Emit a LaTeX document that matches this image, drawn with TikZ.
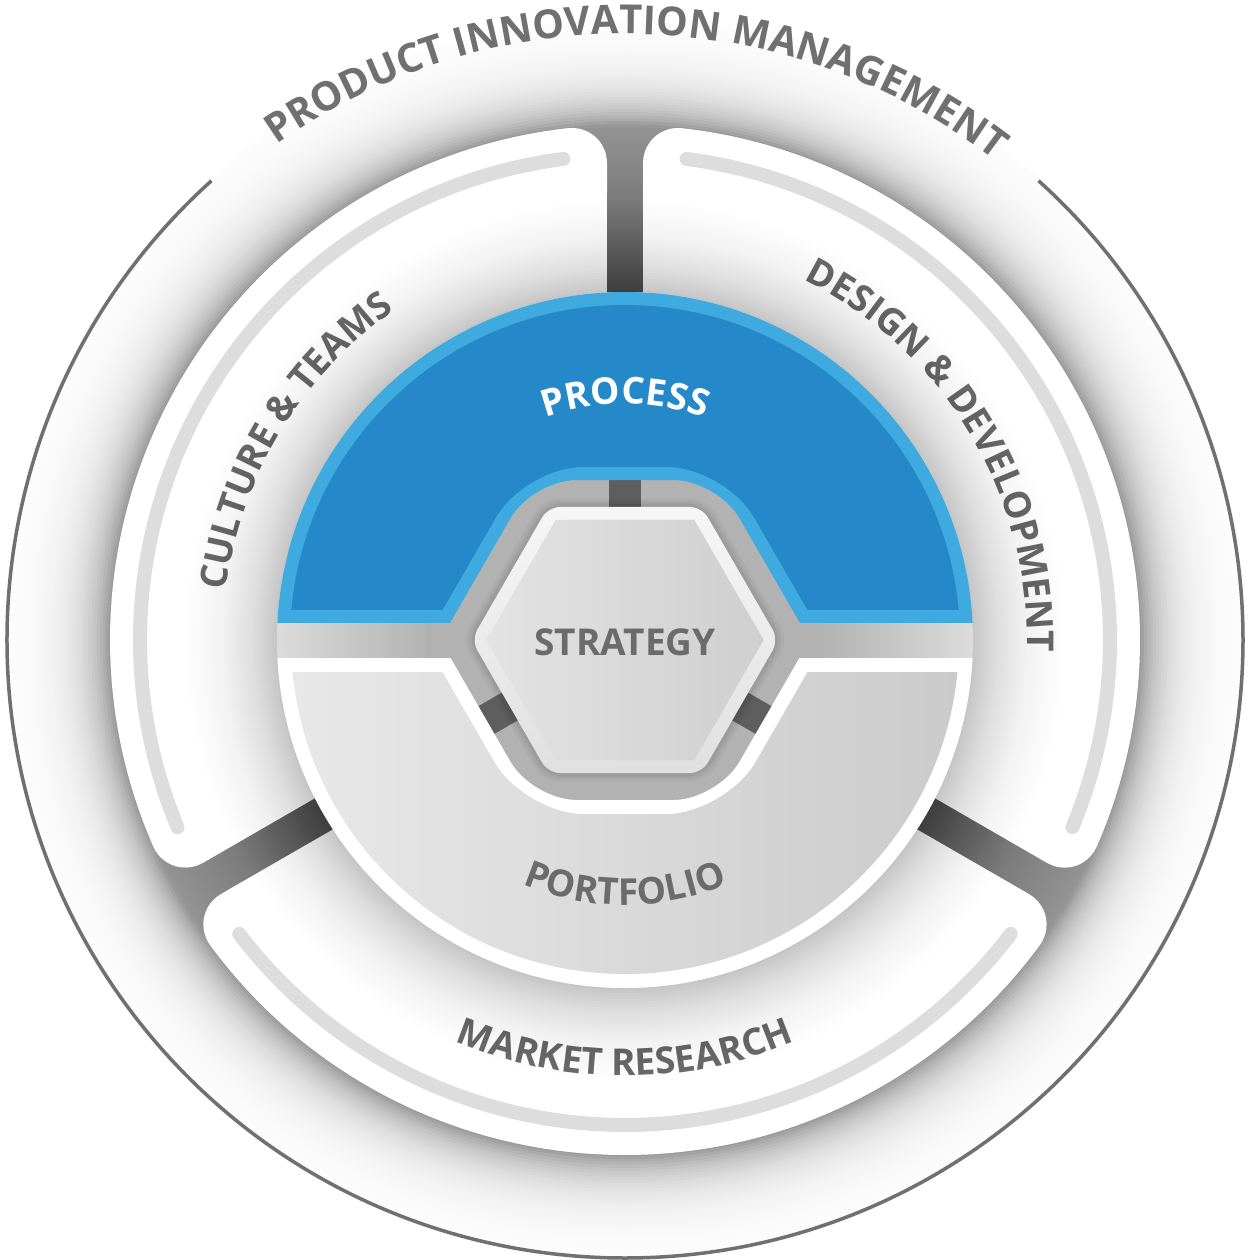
\documentclass[tikz,border=0pt]{standalone}
\usepackage{fontspec}
\setmainfont{Open Sans}
\definecolor{procdark}{HTML}{2589C9}
\definecolor{proclight}{HTML}{3FAAE0}
\definecolor{txtgray}{HTML}{6B6B6B}
\definecolor{outergray}{HTML}{707070}
\definecolor{stripegray}{HTML}{DDDDDD}
\definecolor{spokegray}{HTML}{5E5E5E}
\definecolor{pfleft}{HTML}{E8E8E8}
\definecolor{pfright}{HTML}{CBCBCB}
\definecolor{hexlight}{HTML}{F6F6F6}
\definecolor{hexlow}{HTML}{E0E0E0}
\definecolor{hexinl}{HTML}{E3E3E3}
\definecolor{hexinr}{HTML}{CFCFCF}
\newcommand\lblfont{\fontsize{18.5pt}{20pt}\selectfont\bfseries}
\newcommand\titlefont{\fontsize{20pt}{22pt}\selectfont\bfseries}
\tikzset{
  lbl/.style={font=\lblfont},
  arcchar/.style={inner sep=0pt, anchor=base},
}
\ExplSyntaxOn
\fp_new:N \l_arc_a_fp
\fp_new:N \l_arc_w_fp
\fp_new:N \l_arc_c_fp
\str_new:N \l_arc_str
\box_new:N \l_arc_box
\dim_new:N \l_arc_dim
% #1 name, #2 baseline radius, #3 centre angle, #4 1 = tops outward / -1 = tops inward, #5 font, #6 text
\NewDocumentCommand \ArcPrep { m m m m m m }
 {
  \tl_gclear_new:c { g_arc_#1_tl }
  \str_set:Nn \l_arc_str {#6}
  \hbox_set:Nn \l_arc_box { #5 \scan_stop: \str_use:N \l_arc_str }
  \dim_set:Nn \l_arc_dim { \box_wd:N \l_arc_box }
  \fp_set:Nn \l_arc_a_fp { (#3) + (#4) * ( \dim_to_fp:n { \l_arc_dim } ) / ( (#2) * 0.5 ) * 90 / pi }
  \str_map_inline:Nn \l_arc_str
   {
    \hbox_set:Nn \l_arc_box { #5 \scan_stop: ##1 }
    \dim_set:Nn \l_arc_dim { \box_wd:N \l_arc_box }
    \fp_set:Nn \l_arc_w_fp { ( \dim_to_fp:n { \l_arc_dim } ) / ( (#2) * 0.5 ) * 180 / pi }
    \fp_set:Nn \l_arc_c_fp { \l_arc_a_fp - (#4) * \l_arc_w_fp / 2 }
    \tl_gput_right:cx { g_arc_#1_tl }
     {
      \exp_not:N \node [ arcchar, rotate = \fp_eval:n { round ( \l_arc_c_fp - (#4) * 90 , 3 ) } ]
       at ( \fp_eval:n { round ( (#2) * cosd ( \l_arc_c_fp ) , 3 ) } ,
            \fp_eval:n { round ( (#2) * sind ( \l_arc_c_fp ) , 3 ) } )
       { \exp_not:n { #5 ##1 } } ;
     }
    \fp_set:Nn \l_arc_a_fp { \l_arc_a_fp - (#4) * \l_arc_w_fp }
   }
 }
\NewDocumentCommand \ArcDraw { m } { \tl_use:c { g_arc_#1_tl } }
\ExplSyntaxOff
\begin{document}%
\ArcPrep{title}{606}{89}{1}{\titlefont\color{outergray}}{PRODUCT INNOVATION MANAGEMENT}%
\ArcPrep{culture}{402}{149}{1}{\lblfont\color{txtgray}}{CULTURE & TEAMS}%
\ArcPrep{design}{402}{31}{1}{\lblfont\color{txtgray}}{DESIGN & DEVELOPMENT}%
\ArcPrep{market}{436}{270}{-1}{\lblfont\color{txtgray}}{MARKET RESEARCH}%
\ArcPrep{process}{236}{90}{1}{\lblfont\color{white}}{PROCESS}%
\ArcPrep{portfolio}{265}{270}{-1}{\lblfont\color{txtgray}}{PORTFOLIO}%
\begin{tikzpicture}[x=0.5pt,y=0.5pt]
\useasboundingbox (-625,-620) rectangle (625,640);
\fill[white] (-625,-620) rectangle (625,640);

% under layer: spokes colour and outer shadow
\foreach \r in {621,618,...,339}{
  \pgfmathsetmacro\p{42*exp(-max(\r-515,0)/28)+max(515-\r,0)*0.13}
  \fill[black!\p] (0,0) circle[radius=\r];
}

% outer thin circle
\draw[outergray, line width=1.75pt] (132:618) arc[start angle=132, end angle=408, radius=618];

% top title
\ArcDraw{title}

% three outer segments
\foreach \s in {90,210,330}{
  \fill[white] (\s+3.434:300.54) -- (\s+2.161:477.44)
    arc[start angle=\s-90, end angle=\s+6.34, radius=35]
    arc[start angle=\s+6.34, end angle=\s+113.66, radius=515]
    arc[start angle=\s+113.66, end angle=\s+210, radius=35]
    -- (\s+116.566:300.54)
    arc[start angle=\s+116.566, end angle=\s+3.434, radius=300.54] -- cycle;
  \draw[stripegray, line width=7pt, line cap=round] (\s+7.3:485)
    arc[start angle=\s+7.3, end angle=\s+112.7, radius=485];
}

% segment labels
\ArcDraw{culture}
\ArcDraw{design}
\ArcDraw{market}

% shadow of the inner disk
\foreach \r in {440,437,...,350}{
  \pgfmathsetmacro\o{0.014*exp(-(\r-350)/60)}
  \fill[black, opacity=\o] (0,0) circle[radius=\r];
}

% base disk
\foreach \r in {348,344,...,200}{
  \pgfmathsetmacro\p{14+(348-\r)/148*16}
  \fill[black!\p] (0,0) circle[radius=\r];
}

% inner spokes
\foreach \a in {90,210,330}
  \fill[spokegray, rotate=\a] (0,-16) rectangle (200,16);

% PROCESS
\begin{scope}
  \clip (-360,18) rectangle (360,360);
  \fill[proclight, even odd rule] (0,0) circle[radius=348]
    [rounded corners=22] (213.7,-50) -- (92.4,160) -- (-92.4,160) -- (-213.7,-50) -- cycle;
\end{scope}
\begin{scope}
  \clip (-360,31) rectangle (360,360);
  \fill[procdark, even odd rule] (0,0) circle[radius=335]
    [rounded corners=29] (228.7,-50) -- (99.9,173) -- (-99.9,173) -- (-228.7,-50) -- cycle;
\end{scope}

% PORTFOLIO
\begin{scope}
  \clip (-360,-18) rectangle (360,-360);
  \fill[white, even odd rule] (0,0) circle[radius=348]
    [rounded corners=22] (213.7,50) -- (92.4,-160) -- (-92.4,-160) -- (-213.7,50) -- cycle;
\end{scope}
\begin{scope}
  \clip (-360,-32) rectangle (360,-360);
  \shade[left color=pfleft, right color=pfright, even odd rule] (0,0) circle[radius=334]
    [rounded corners=30] (229.9,50) -- (100.5,-174.1) -- (-100.5,-174.1) -- (-229.9,50) -- cycle;
\end{scope}

% STRATEGY hexagon
\foreach \k/\o in {10/0.03,7/0.04,4/0.05}
  \fill[black, opacity=\o, rounded corners=8] (0:153.6+\k) -- (60:153.6+\k) -- (120:153.6+\k)
    -- (180:153.6+\k) -- (240:153.6+\k) -- (300:153.6+\k) -- cycle;
\shade[top color=hexlight, bottom color=hexlow, rounded corners=6] (0:153.6) -- (60:153.6) -- (120:153.6)
    -- (180:153.6) -- (240:153.6) -- (300:153.6) -- cycle;
\shade[left color=hexinl, right color=hexinr] (0:138.6) -- (60:138.6) -- (120:138.6)
    -- (180:138.6) -- (240:138.6) -- (300:138.6) -- cycle;

% inner labels
\ArcDraw{process}
\ArcDraw{portfolio}
\node[lbl, text=txtgray] (strategy) at (0,-2) {STRATEGY};
\end{tikzpicture}
\end{document}
